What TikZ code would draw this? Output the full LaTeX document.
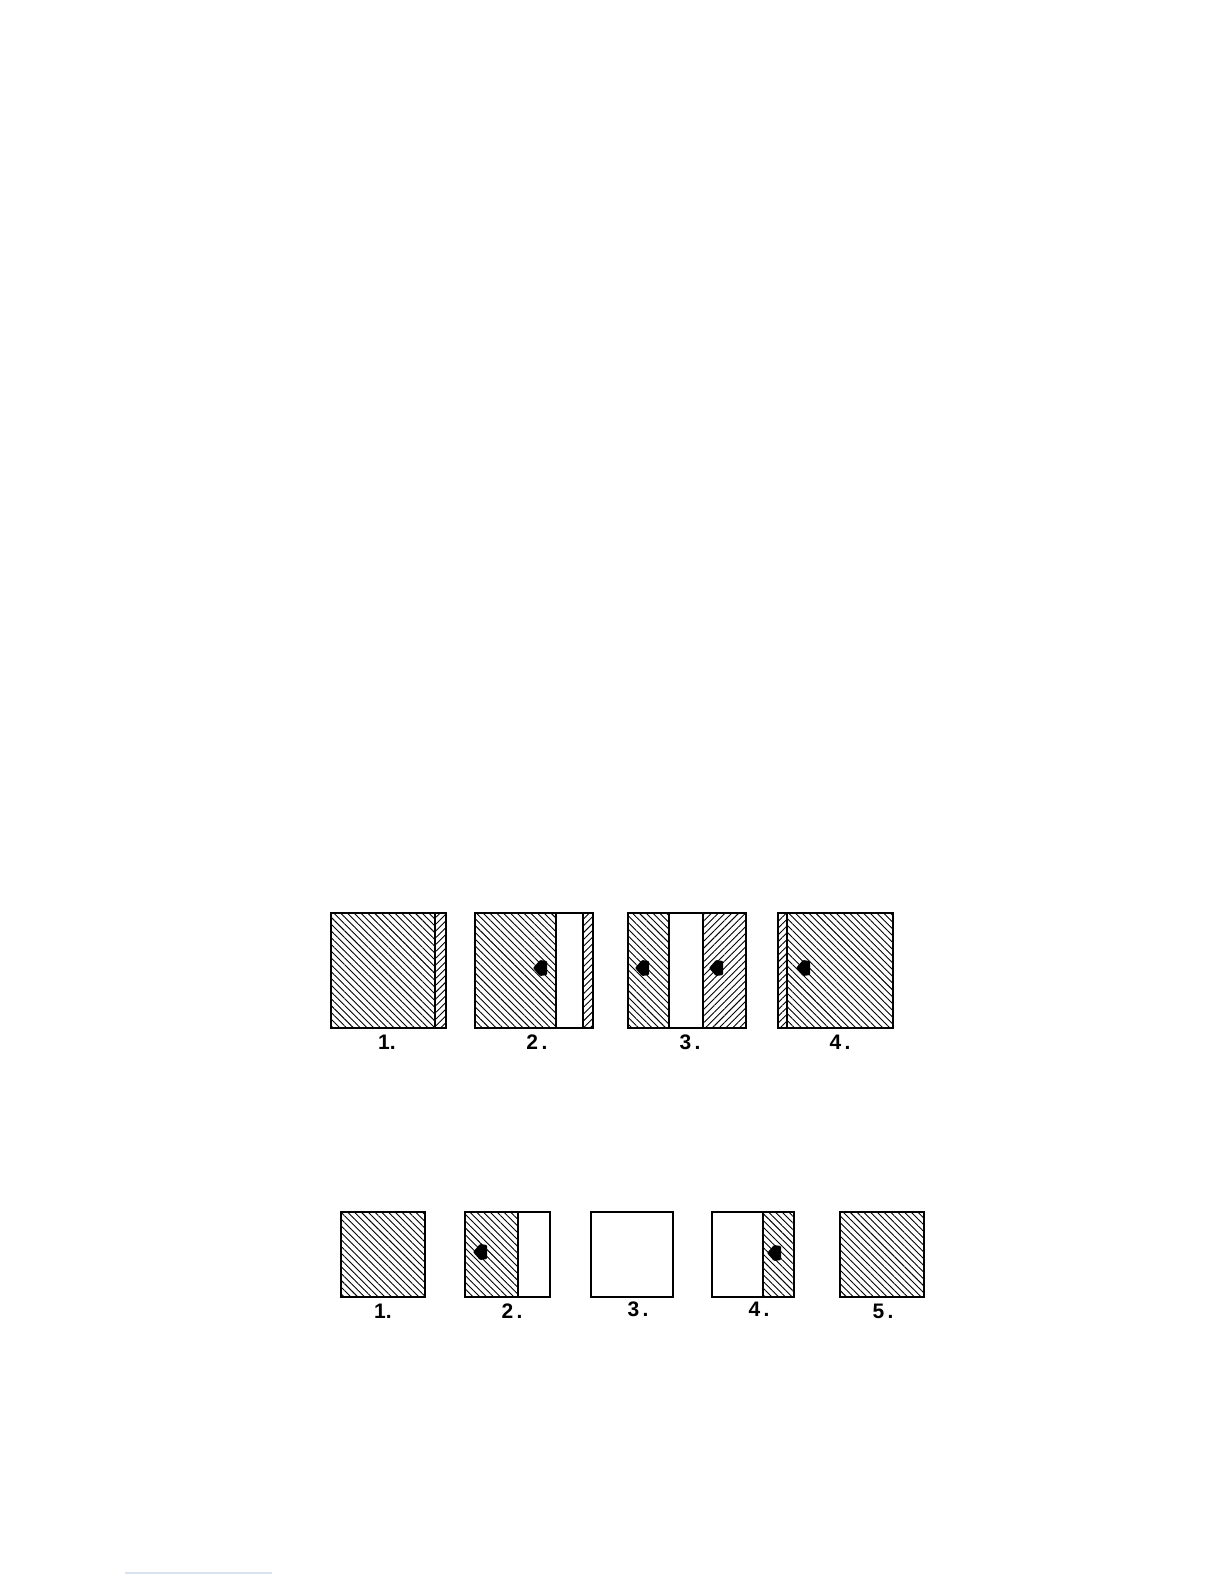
\documentclass[tikz,border=0pt]{standalone}
\usepackage{fontspec}
\setsansfont{Liberation Sans}
\usetikzlibrary{patterns.meta}
\tikzset{
  hatchNW/.style={pattern={Lines[angle=-45,distance=2.4pt,line width=0.45pt]}},
  hatchNE/.style={pattern={Lines[angle=45,distance=2.4pt,line width=0.45pt]}},
  frame/.style={draw=black,line width=1pt},
  divider/.style={draw=black,line width=0.7pt},
  lab/.style={font=\sffamily\bfseries\fontsize{10.5}{11}\selectfont,inner sep=0pt},
  arrowmark/.pic={\fill[black,rounded corners=0.5pt] (0,0) -- (7,-8) -- (14,-7) -- (14,7) -- (7,8) -- cycle;}
}
\begin{document}
\begin{tikzpicture}[x=0.5pt,y=-0.5pt]
\useasboundingbox (0,0) rectangle (1224,1584);
% ---------- top row ----------
% panel 1
\fill[hatchNW] (331,913) rectangle (435,1028);
\fill[hatchNE] (435,913) rectangle (446,1028);
\draw[divider] (435,913) -- (435,1028);
\draw[frame] (331,913) rectangle (446,1028);
\node[lab] (t1) at (387,1042) {1.};
% panel 2
\fill[hatchNW] (475,913) rectangle (556,1028);
\fill[hatchNE] (583,913) rectangle (593,1028);
\draw[divider] (556,913) -- (556,1028);
\draw[divider] (583,913) -- (583,1028);
\draw[frame] (475,913) rectangle (593,1028);
\pic at (533,968) {arrowmark};
\node[lab] (t2) at (537,1042) {2\,.};
% panel 3
\fill[hatchNW] (628,913) rectangle (669,1028);
\fill[hatchNE] (703,913) rectangle (746,1028);
\draw[divider] (669,913) -- (669,1028);
\draw[divider] (703,913) -- (703,1028);
\draw[frame] (628,913) rectangle (746,1028);
\pic at (635,968) {arrowmark};
\pic at (709,968) {arrowmark};
\node[lab] (t3) at (690,1042) {3\,.};
% panel 4
\fill[hatchNE] (778,913) rectangle (787,1028);
\fill[hatchNW] (787,913) rectangle (893,1028);
\draw[divider] (787,913) -- (787,1028);
\draw[frame] (778,913) rectangle (893,1028);
\pic at (796,968) {arrowmark};
\node[lab] (t4) at (840,1042) {4\,.};
% ---------- bottom row ----------
% panel 1
\fill[hatchNW] (341,1212) rectangle (425,1297);
\draw[frame] (341,1212) rectangle (425,1297);
\node[lab] (b1) at (383,1311) {1.};
% panel 2
\fill[hatchNW] (465,1212) rectangle (518,1297);
\draw[divider] (518,1212) -- (518,1297);
\draw[frame] (465,1212) rectangle (550,1297);
\pic at (473,1252) {arrowmark};
\node[lab] (b2) at (512,1311) {2\,.};
% panel 3
\draw[frame] (591,1212) rectangle (673,1297);
\node[lab] (b3) at (638,1309) {3\,.};
% panel 4
\fill[hatchNW] (763,1212) rectangle (794,1297);
\draw[divider] (763,1212) -- (763,1297);
\draw[frame] (712,1212) rectangle (794,1297);
\pic at (767,1253) {arrowmark};
\node[lab] (b4) at (759,1309) {4\,.};
% panel 5
\fill[hatchNW] (840,1212) rectangle (924,1297);
\draw[frame] (840,1212) rectangle (924,1297);
\node[lab] (b5) at (883,1311) {5\,.};
% faint rule at the foot
\draw[draw={rgb,255:red,215;green,225;blue,242},line width=0.8pt] (125,1573) -- (272,1573);
\end{tikzpicture}
\end{document}
